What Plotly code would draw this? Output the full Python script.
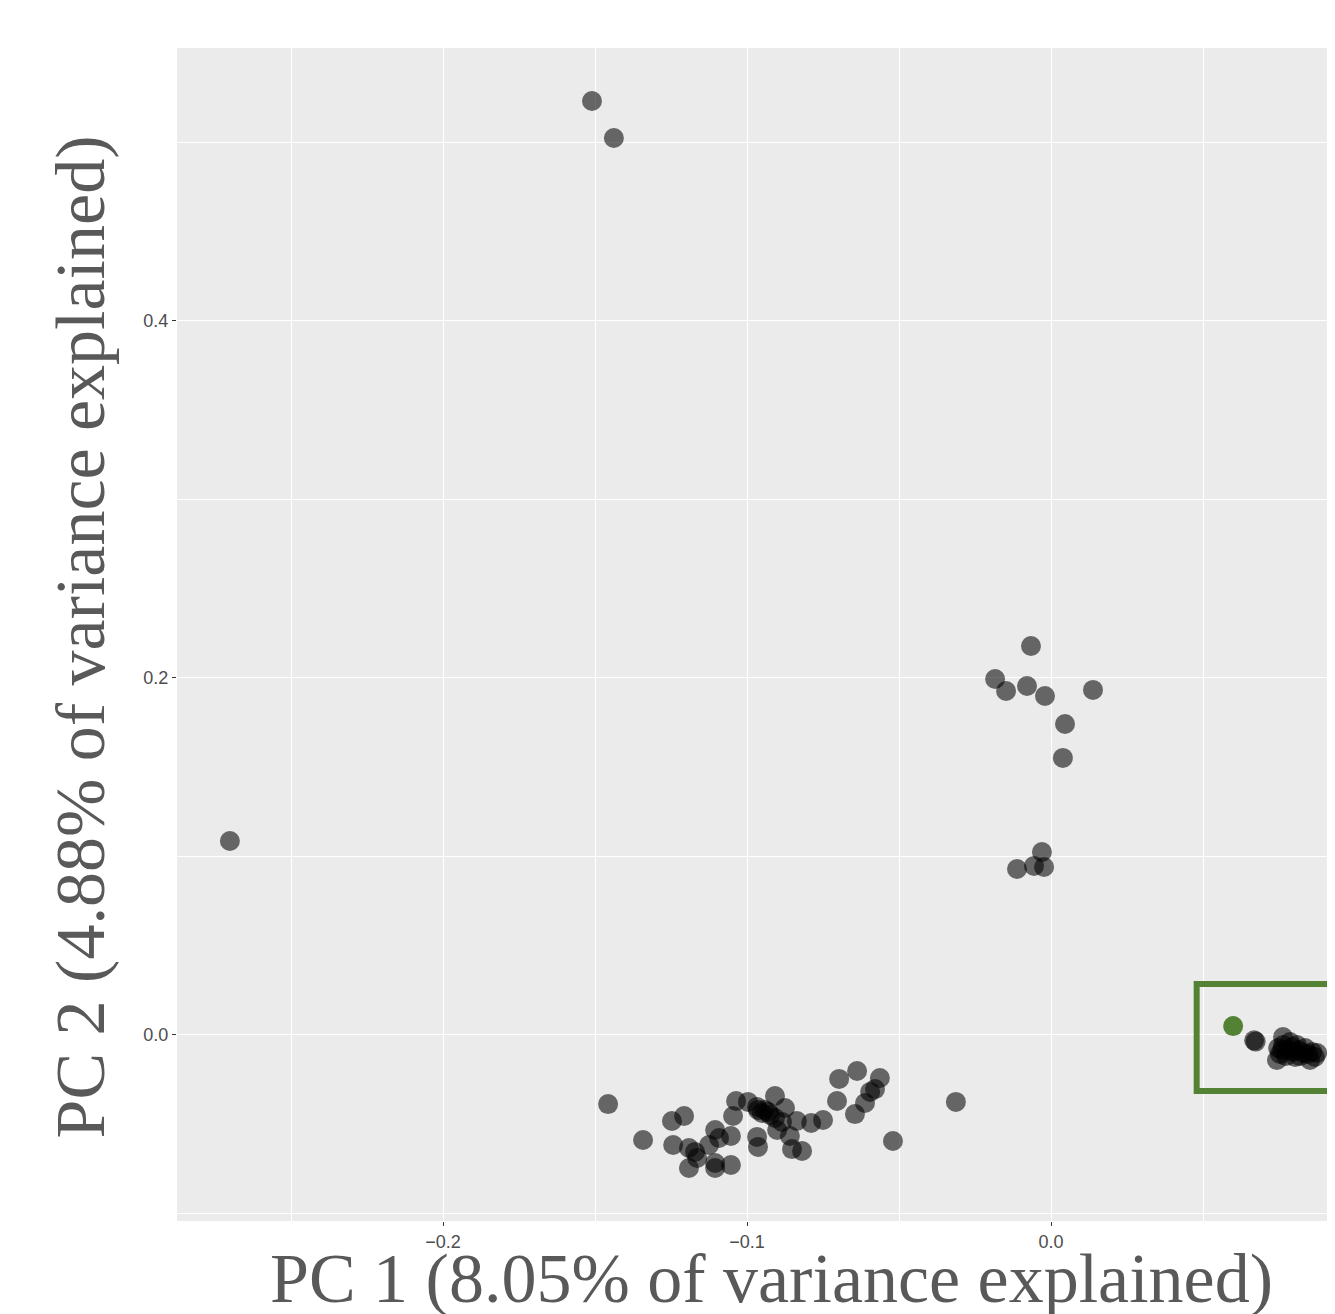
import plotly.graph_objects as go

# PCA scores (PC1, PC2)
pc1 = [-0.1510, -0.1438, -0.2701,
       -0.0066, -0.0184, -0.0148, -0.0079, -0.0020, 0.0138, 0.0046, 0.0039,
       -0.0030, -0.0112, -0.0056, -0.0023,
       -0.1457, -0.1342, -0.1247, -0.1207, -0.1243, -0.1191, -0.1171, -0.1164,
       -0.1191, -0.1105, -0.1092, -0.1125, -0.1053, -0.1105, -0.1105, -0.1053,
       -0.1046, -0.1036, -0.0997, -0.0967, -0.0964, -0.0951, -0.0924, -0.0908,
       -0.0908, -0.0875, -0.0885, -0.0901, -0.0836, -0.0859, -0.0967, -0.0964,
       -0.0852, -0.0819, -0.0789, -0.0750, -0.0697, -0.0638, -0.0563, -0.0704,
       -0.0645, -0.0612, -0.0595, -0.0579, -0.0520, -0.0313, -0.0941, -0.0931,
       0.0668, 0.0673,
       0.0763, 0.0743, 0.0852, 0.0875, 0.0747, 0.0763, 0.0780, 0.0796, 0.0813,
       0.0829, 0.0845, 0.0859, 0.0753, 0.0773, 0.0793, 0.0819, 0.0836, 0.0803,
       0.0786, 0.0760, 0.0809, 0.0868]
pc2 = [0.5232, 0.5025, 0.1087,
       0.2179, 0.1994, 0.1927, 0.1955, 0.1899, 0.1933, 0.1742, 0.1552,
       0.1025, 0.0930, 0.0947, 0.0941,
       -0.0387, -0.0588, -0.0482, -0.0454, -0.0616, -0.0633, -0.0655, -0.0689,
       -0.0745, -0.0532, -0.0577, -0.0616, -0.0566, -0.0717, -0.0745, -0.0728,
       -0.0454, -0.0370, -0.0375, -0.0403, -0.0420, -0.0437, -0.0448, -0.0342,
       -0.0465, -0.0409, -0.0487, -0.0532, -0.0482, -0.0566, -0.0571, -0.0627,
       -0.0639, -0.0650, -0.0493, -0.0476, -0.0246, -0.0202, -0.0241, -0.0370,
       -0.0443, -0.0381, -0.0319, -0.0303, -0.0594, -0.0375, -0.0420, -0.0431,
       -0.0030, -0.0037,
       -0.0011, -0.0140, -0.0140, -0.0101, -0.0073, -0.0056, -0.0084, -0.0095, -0.0084,
       -0.0101, -0.0106, -0.0095, -0.0106, -0.0118, -0.0067, -0.0118, -0.0073, -0.0123,
       -0.0039, -0.0084, -0.0056, -0.0123]

# Highlighted sample
hl_pc1 = [0.0599]
hl_pc2 = [0.0050]

# Highlight box (data coordinates)
box_x = [0.0479, 0.12]
box_y = [-0.0314, 0.0286]

x_ticks = [-0.2, -0.1, 0.0]
x_minor = [-0.25, -0.15, -0.05, 0.05]
y_ticks = [0.0, 0.2, 0.4]
y_minor = [-0.1, 0.1, 0.3, 0.5]

x_title = "PC 1 (8.05% of variance explained)"
y_title = "PC 2 (4.88% of variance explained)"

green = "#548235"

fig = go.Figure()
fig.add_trace(go.Scatter(
    x=pc1, y=pc2, mode="markers",
    marker=dict(size=20, color="black", opacity=0.57, line=dict(width=0)),
    hoverinfo="skip", showlegend=False))
fig.add_trace(go.Scatter(
    x=hl_pc1, y=hl_pc2, mode="markers",
    marker=dict(size=20, color=green, line=dict(width=0)),
    hoverinfo="skip", showlegend=False))

fig.add_shape(type="rect", xref="x", yref="y",
              x0=box_x[0], x1=box_x[1], y0=box_y[0], y1=box_y[1],
              line=dict(color=green, width=6), fillcolor="rgba(0,0,0,0)")

axis_common = dict(
    showline=False, zeroline=False, ticks="outside", ticklen=4, tickwidth=1,
    tickcolor="#333333", gridcolor="white", gridwidth=1.3,
    tickfont=dict(family="Liberation Sans, Arial, sans-serif", size=18, color="#4d4d4d"),
    tickformat=".1f",
)

fig.update_xaxes(range=[-0.2875, 0.0934], tickvals=x_ticks,
                 minor=dict(tickvals=x_minor, showgrid=True, gridcolor="white",
                            gridwidth=0.6, ticklen=0),
                 **axis_common)
fig.update_yaxes(range=[-0.1042, 0.5529], tickvals=y_ticks,
                 minor=dict(tickvals=y_minor, showgrid=True, gridcolor="white",
                            gridwidth=0.6, ticklen=0),
                 **axis_common)

title_font = dict(family="Liberation Serif, Times New Roman, serif", size=70, color="#595959")
fig.add_annotation(text=x_title, xref="paper", yref="paper", x=0.513, y=0,
                   yshift=-57, xanchor="center", yanchor="middle",
                   showarrow=False, font=title_font)
fig.add_annotation(text=y_title, xref="paper", yref="paper", x=0, y=0.4974,
                   xshift=-96, xanchor="center", yanchor="middle",
                   textangle=-90, showarrow=False, font=title_font)

fig.update_layout(
    width=1327, height=1306,
    margin=dict(l=169, r=0, t=40, b=93, pad=0),
    paper_bgcolor="white", plot_bgcolor="#ebebeb",
)

fig.write_html("out.html")
